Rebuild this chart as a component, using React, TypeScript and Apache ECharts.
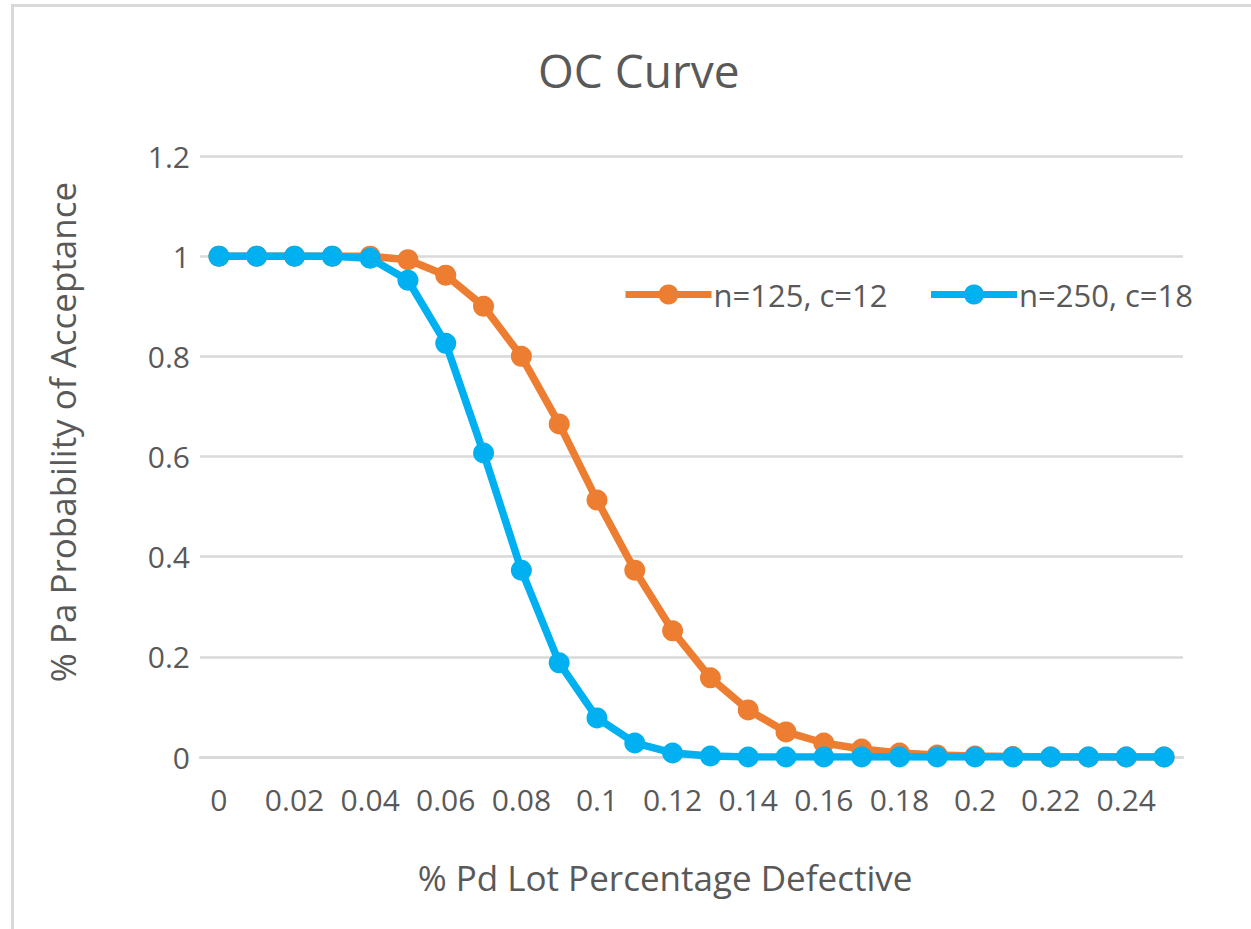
import React, { useEffect, useRef } from "react";
import * as echarts from "echarts";

const categories = ["0","0.01","0.02","0.03","0.04","0.05","0.06","0.07","0.08","0.09","0.1","0.11","0.12","0.13","0.14","0.15","0.16","0.17","0.18","0.19","0.2","0.21","0.22","0.23","0.24","0.25"];
const seriesA = [1,1,1,1,1,0.993,0.962,0.9,0.8,0.665,0.513,0.373,0.252,0.158,0.094,0.05,0.028,0.016,0.008,0.004,0.002,0.001,0,0,0,0];
const seriesB = [1,1,1,1,0.996,0.952,0.826,0.607,0.373,0.188,0.078,0.028,0.008,0.002,0,0,0,0,0,0,0,0,0,0,0,0];
const nameA = "n=125, c=12";
const nameB = "n=250, c=18";
const yTicks = [0, 0.2, 0.4, 0.6, 0.8, 1, 1.2];
const xTitle = "% Pd Lot Percentage Defective";
const yTitle = "% Pa Probability of Acceptance";

const FONT = "Open Sans";
const TXT = "#595959";

export default function App() {
  const ref = useRef<HTMLDivElement>(null);
  useEffect(() => {
    if (!ref.current) return;
    const chart = echarts.init(ref.current, null, { renderer: "svg" });
    chart.setOption({
      animation: false,
      backgroundColor: "#ffffff",
      textStyle: { fontFamily: FONT, color: TXT },
      title: {
        text: "OC Curve",
        left: 533,
        top: 42,
        textStyle: { fontFamily: FONT, fontSize: 46, fontWeight: "normal", color: TXT },
      },
      graphic: [
        {
          type: "rect",
          shape: { x: 12.5, y: 5.5, width: 1400, height: 1100 },
          style: { fill: "none", stroke: "#d9d9d9", lineWidth: 3 },
          silent: true,
        },
        {
          type: "text",
          x: 665,
          y: 877,
          style: { text: xTitle, font: `35px "${FONT}"`, fill: TXT, align: "center", verticalAlign: "middle" },
          silent: true,
        },
        {
          type: "text",
          x: 62,
          y: 432,
          rotation: Math.PI / 2,
          style: { text: yTitle, font: `35px "${FONT}"`, fill: TXT, align: "center", verticalAlign: "middle" },
          silent: true,
        },
      ],
      legend: {
        left: 617,
        top: 274,
        itemWidth: 86,
        itemHeight: 25,
        itemGap: 40,
        lineStyle: { width: 7 },
        textStyle: { fontFamily: FONT, fontSize: 31, color: TXT, padding: [0, 0, 0, -3] },
        data: [nameA, nameB],
      },
      grid: { left: 200, right: 68, top: 156, bottom: 172, containLabel: false },
      xAxis: {
        type: "category",
        data: categories,
        boundaryGap: true,
        axisLine: { show: true, lineStyle: { color: "#d9d9d9", width: 2.5 } },
        axisTick: { show: false },
        axisLabel: { interval: 1, margin: 27, fontFamily: FONT, fontSize: 30, color: TXT },
        splitLine: { show: false },
      },
      yAxis: {
        type: "value",
        min: yTicks[0],
        max: yTicks[yTicks.length - 1],
        interval: 0.2,
        axisLine: { show: false },
        axisTick: { show: false },
        axisLabel: { margin: 10, fontFamily: FONT, fontSize: 30, color: TXT, formatter: (v: number) => String(Math.round(v * 10) / 10) },
        splitLine: { show: true, lineStyle: { color: "#d9d9d9", width: 2.5 } },
      },
      series: [
        {
          name: nameA,
          type: "line",
          data: seriesA,
          symbol: "circle",
          symbolSize: 21,
          color: "#ED7D31",
          lineStyle: { width: 7.5, color: "#ED7D31" },
          itemStyle: { color: "#ED7D31" },
          z: 2,
        },
        {
          name: nameB,
          type: "line",
          data: seriesB,
          symbol: "circle",
          symbolSize: 21,
          color: "#00B0F0",
          lineStyle: { width: 7.5, color: "#00B0F0" },
          itemStyle: { color: "#00B0F0" },
          z: 3,
        },
      ],
    });
    return () => chart.dispose();
  }, []);
  return <div ref={ref} style={{ position: "absolute", left: 0, top: 0, width: 1251, height: 929 }} />;
}
